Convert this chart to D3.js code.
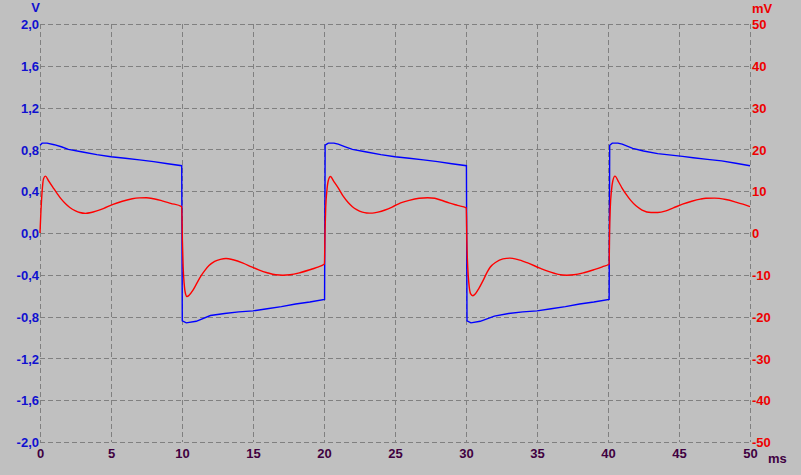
<!DOCTYPE html>
<html>
<head>
<meta charset="utf-8">
<script src="https://cdn.jsdelivr.net/npm/d3@7"></script>
<style>
  html, body { margin: 0; padding: 0; background: #c0c0c0; }
  svg { display: block; }
  text { font-family: "Liberation Sans", Arial, sans-serif; font-weight: bold; font-size: 13px; }
</style>
</head>
<body>
<svg id="chart" width="801" height="475"></svg>
<script>
// ---- tick labels ----
const timeTicks = [0, 5, 10, 15, 20, 25, 30, 35, 40, 45, 50];
const voltTicks = [2.0, 1.6, 1.2, 0.8, 0.4, 0.0, -0.4, -0.8, -1.2, -1.6, -2.0];
const mvTicks = [50, 40, 30, 20, 10, 0, -10, -20, -30, -40, -50];

// ---- blue series (V, left axis) ----
const blueTime = [0, 0.15, 0.5, 1.0, 1.5, 2.0, 3.0, 4.0, 5.0, 6.0, 7.0, 8.0, 9.0, 9.98,
  10.02, 10.3, 11.0, 12.0, 13.0, 14.0, 15.0, 16.0, 17.0, 18.0, 19.0, 20.04,
  20.08, 20.3, 20.7, 21.0, 21.5, 22.0, 23.0, 24.0, 25.0, 26.0, 27.0, 28.0, 29.0, 30.03,
  30.07, 30.35, 31.0, 32.0, 33.0, 34.0, 35.0, 36.0, 37.0, 38.0, 39.0, 40.08,
  40.12, 40.3, 40.7, 41.0, 41.74, 42.5, 43.5, 45.25, 46.0, 47.0, 48.0, 49.0, 50.0];
const blueVolts = [0.84, 0.86, 0.86, 0.845, 0.825, 0.80, 0.775, 0.75, 0.73, 0.715, 0.70, 0.683, 0.663, 0.644,
  -0.84, -0.86, -0.845, -0.79, -0.77, -0.755, -0.745, -0.725, -0.705, -0.68, -0.66, -0.635,
  0.84, 0.86, 0.86, 0.85, 0.825, 0.80, 0.775, 0.75, 0.73, 0.715, 0.70, 0.683, 0.663, 0.644,
  -0.84, -0.86, -0.845, -0.795, -0.77, -0.755, -0.745, -0.725, -0.705, -0.68, -0.66, -0.635,
  0.84, 0.86, 0.86, 0.85, 0.81, 0.785, 0.76, 0.733, 0.72, 0.705, 0.69, 0.668, 0.644];

// ---- red series (mV, right axis) ----
const redTime = [0, 0.05, 0.15, 0.25, 0.38, 0.6, 0.9, 1.2, 1.5, 1.8, 2.1, 2.5, 2.8, 3.2, 3.6, 4.0, 4.5, 5.1, 5.8, 6.5, 7.0, 7.5, 8.0, 8.6, 9.2, 9.98,
  10.03, 10.08, 10.15, 10.25, 10.35, 10.5, 10.75, 11.0, 11.35, 11.6, 11.9, 12.3, 12.7, 13.1, 13.6, 14.3, 14.9, 15.4, 16.0, 16.6, 17.1, 17.6, 18.3, 19.0, 19.5, 20.03,
  20.07, 20.12, 20.2, 20.3, 20.45, 20.7, 21.0, 21.35, 21.7, 22.0, 22.3, 22.7, 23.0, 23.4, 23.8, 24.3, 24.8, 25.4, 26.0, 26.7, 27.3, 27.8, 28.2, 28.8, 29.4, 30.02,
  30.06, 30.12, 30.2, 30.32, 30.48, 30.65, 30.9, 31.2, 31.5, 31.7, 32.1, 32.6, 33.1, 33.6, 34.3, 35.2, 35.8, 36.5, 37.1, 37.6, 38.3, 39.0, 39.6, 40.08,
  40.11, 40.16, 40.24, 40.34, 40.49, 40.75, 41.0, 41.27, 41.6, 41.97, 42.4, 43.03, 43.5, 44.08, 44.6, 45.25, 45.9, 46.5, 46.9, 47.5, 48.3, 49.0, 49.5, 50.0];
const redMillivolts = [0, 4, 10, 13, 13.6, 12.5, 11.0, 9.5, 8.1, 7.0, 6.1, 5.3, 4.9, 4.7, 4.9, 5.3, 5.9, 6.8, 7.6, 8.2, 8.4, 8.45, 8.2, 7.7, 7.1, 6.3,
  -2, -8, -12, -14.6, -15.2, -14.9, -13.8, -12.3, -10.2, -9.0, -7.8, -6.8, -6.3, -6.1, -6.4, -7.2, -8.1, -8.8, -9.5, -10.0, -10.1, -10.0, -9.5, -8.8, -8.2, -7.4,
  0, 6, 10, 12.5, 13.5, 12.3, 10.8, 8.8, 7.3, 6.3, 5.6, 5.0, 4.8, 4.75, 5.0, 5.5, 6.2, 7.2, 7.8, 8.3, 8.45, 8.3, 7.9, 7.2, 6.6, 6.0,
  -2, -8, -12, -14.5, -15.0, -14.6, -13.3, -11.4, -9.3, -8.2, -7.0, -6.2, -6.0, -6.3, -7.1, -8.4, -9.2, -9.9, -10.1, -10.0, -9.5, -8.8, -8.1, -7.4,
  0, 6, 10, 12.5, 13.6, 12.2, 10.7, 9.3, 7.8, 6.5, 5.5, 4.9, 4.9, 5.3, 6.0, 6.9, 7.6, 8.1, 8.3, 8.35, 8.0, 7.4, 6.9, 6.3];

// ---- layout ----
const svg = d3.select("#chart");
const x = d3.scaleLinear().domain([0, 50]).range([40, 750]);
const yV = d3.scaleLinear().domain([-2, 2]).range([442, 24]);
const yMV = d3.scaleLinear().domain([-50, 50]).range([442, 24]);

const gridColor = "#808080";
const dash = "5,3";

// grid
svg.append("g").selectAll("line").data(timeTicks).join("line")
  .attr("x1", d => Math.round(x(d)) + 0.5).attr("x2", d => Math.round(x(d)) + 0.5)
  .attr("y1", yV(2)).attr("y2", yV(-2))
  .attr("stroke", gridColor).attr("stroke-dasharray", dash).attr("stroke-width", 1);
svg.append("g").selectAll("line").data(voltTicks).join("line")
  .attr("y1", d => Math.round(yV(d)) + 0.5).attr("y2", d => Math.round(yV(d)) + 0.5)
  .attr("x1", x(0)).attr("x2", x(50))
  .attr("stroke", gridColor).attr("stroke-dasharray", dash).attr("stroke-width", 1);

// axes
const fmtV = d => d3.format(".1f")(d).replace(".", ",").replace("−", "-");
const leftAxis = svg.append("g").attr("transform", "translate(40,0)")
  .call(d3.axisLeft(yV).tickValues(voltTicks).tickFormat(fmtV).tickSize(0).tickPadding(1));
leftAxis.select(".domain").remove();
leftAxis.selectAll("text").attr("fill", "#1010d0").attr("dy", "0.36em")
  .style("font-family", "'Liberation Sans', Arial, sans-serif").style("font-size", "13px").style("font-weight", "bold");

const rightAxis = svg.append("g").attr("transform", "translate(750,0)")
  .call(d3.axisRight(yMV).tickValues(mvTicks).tickFormat(d => String(d)).tickSize(0).tickPadding(2));
rightAxis.select(".domain").remove();
rightAxis.selectAll("text").attr("fill", "#ee0000").attr("dy", "0.36em")
  .style("font-family", "'Liberation Sans', Arial, sans-serif").style("font-size", "13px").style("font-weight", "bold");

const bottomAxis = svg.append("g").attr("transform", "translate(0,442)")
  .call(d3.axisBottom(x).tickValues(timeTicks).tickFormat(d => String(d)).tickSize(0).tickPadding(7));
bottomAxis.select(".domain").remove();
bottomAxis.selectAll("text").attr("fill", "#400040")
  .style("font-family", "'Liberation Sans', Arial, sans-serif").style("font-size", "13px").style("font-weight", "bold");

// unit labels
svg.append("text").attr("x", 40).attr("y", 12).attr("text-anchor", "end").attr("fill", "#1010d0").text("V");
svg.append("text").attr("x", 752).attr("y", 13).attr("text-anchor", "start").attr("fill", "#ee0000").text("mV");
svg.append("text").attr("x", 768).attr("y", 463).attr("text-anchor", "start").attr("fill", "#400040").text("ms");

// series
const blueData = blueTime.map((t, i) => [t, blueVolts[i]]);
const redData = redTime.map((t, i) => [t, redMillivolts[i]]);

svg.append("path").datum(blueData)
  .attr("fill", "none").attr("stroke", "#0000ff").attr("stroke-width", 1.4)
  .attr("d", d3.line().x(d => x(d[0])).y(d => yV(d[1])));
svg.append("path").datum(redData)
  .attr("fill", "none").attr("stroke", "#ff0000").attr("stroke-width", 1.4)
  .attr("d", d3.line().curve(d3.curveMonotoneX).x(d => x(d[0])).y(d => yMV(d[1])));
</script>
</body>
</html>
